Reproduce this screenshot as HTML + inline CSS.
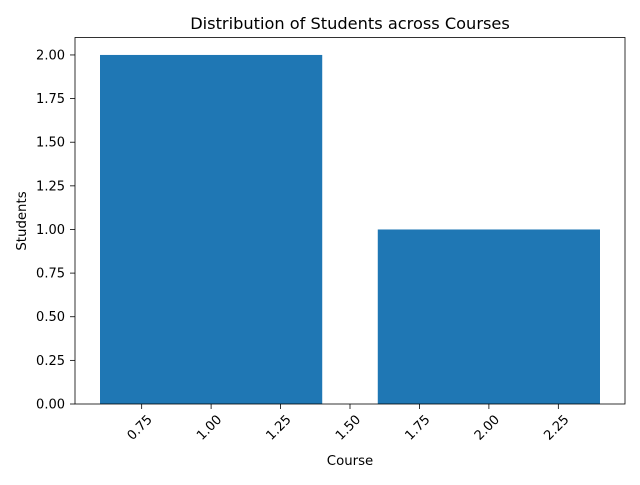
<!DOCTYPE html>
<html><head><meta charset="utf-8"><style>body{margin:0;background:#fff}svg{font-family:"DejaVu Sans","Liberation Sans",sans-serif}</style></head>
<body>
<svg width="640" height="480" id="c">
<text x="350" y="29" text-anchor="middle" font-size="16.2">Distribution of Students across Courses</text>
<text x="350" y="465" text-anchor="middle" font-size="13.3">Course</text>
<text transform="translate(26,221) rotate(-90)" text-anchor="middle" font-size="13.3">Students</text>
</svg>
<script>
const categories=[1,2];
const values=[2,1];
const xTicks=[0.75,1.00,1.25,1.50,1.75,2.00,2.25];
const yTicks=[0,0.25,0.5,0.75,1,1.25,1.5,1.75,2];
const L=75,R=625,T=37.5,B=404;
const xmin=0.51,xmax=2.49,ymax=2.1;
const X=v=>L+(v-xmin)/(xmax-xmin)*(R-L);
const Y=v=>B-v/ymax*(B-T);
const svg=document.getElementById('c');const NS='http://www.w3.org/2000/svg';
function mk(t,a){const e=document.createElementNS(NS,t);for(const k in a)e.setAttribute(k,a[k]);svg.appendChild(e);return e;}
categories.forEach((c,i)=>{const r=mk('rect',{x:X(c-0.4),y:Y(values[i]),width:X(c+0.4)-X(c-0.4),height:B-Y(values[i]),fill:'#1f77b4'});

});
const f=mk('rect',{x:L,y:T,width:R-L,height:B-T,fill:'none',stroke:'#000','stroke-width':0.8});


xTicks.forEach(v=>{const x=X(v);mk('line',{x1:x,x2:x,y1:B,y2:B+5,stroke:'#000','stroke-width':0.8});
const t=mk('text',{transform:`translate(${x+5},${B+10}) rotate(-45)`,'text-anchor':'end','font-size':13,'dominant-baseline':'hanging'});t.textContent=v.toFixed(2);

});
yTicks.forEach(v=>{const y=Y(v);mk('line',{x1:L-5,x2:L,y1:y,y2:y,stroke:'#000','stroke-width':0.8});
const t=mk('text',{x:L-10,y:y+4.5,'text-anchor':'end','font-size':13});t.textContent=v.toFixed(2);

});
</script>
</body></html>
